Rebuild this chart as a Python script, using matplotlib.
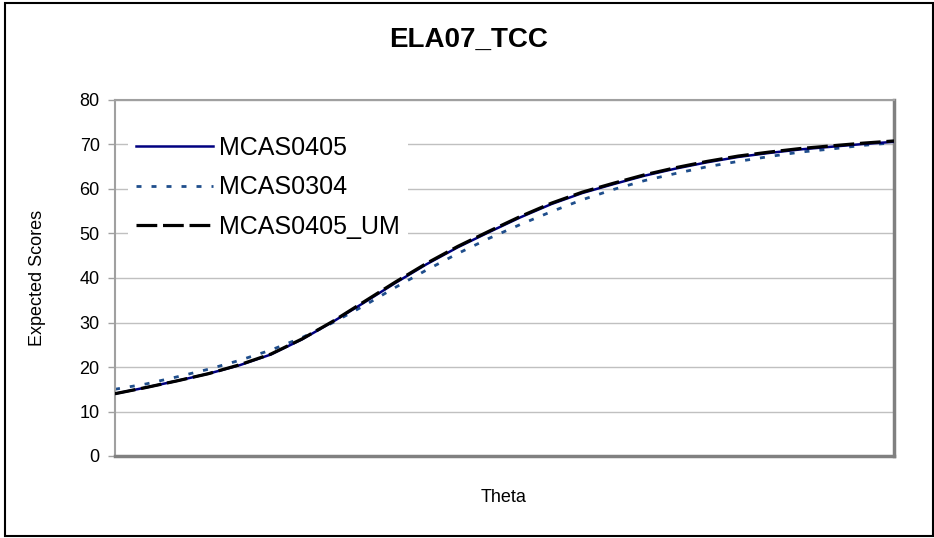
import numpy as np
import matplotlib
matplotlib.use("Agg")
import matplotlib.pyplot as plt
from matplotlib.patches import Rectangle

plt.rcParams["font.family"] = ["Liberation Sans", "DejaVu Sans"]

# theta grid (no tick labels shown on the chart)
theta = [-4.00, -3.68, -3.36, -3.04, -2.72, -2.40, -2.08, -1.76, -1.44, -1.12,
         -0.80, -0.48, -0.16, 0.16, 0.48, 0.80, 1.12, 1.44, 1.76, 2.08,
         2.40, 2.72, 3.04, 3.36, 3.68, 4.00]

# expected scores
mcas0405 = [14.0, 15.4, 16.9, 18.5, 20.4, 22.8, 26.2, 30.2, 34.5, 38.9,
            43.1, 46.9, 50.3, 53.6, 56.6, 59.1, 61.1, 63.0, 64.6, 66.0,
            67.2, 68.1, 68.9, 69.5, 70.1, 70.6]
mcas0304 = [15.0, 16.2, 17.8, 19.5, 21.5, 23.8, 26.6, 30.0, 33.8, 37.9,
            41.8, 45.5, 48.9, 52.0, 54.9, 57.6, 59.9, 61.9, 63.5, 65.0,
            66.2, 67.3, 68.3, 69.0, 69.8, 70.4]
mcas0405_um = [14.0, 15.4, 16.9, 18.5, 20.5, 22.9, 26.3, 30.3, 34.7, 39.1,
               43.3, 47.1, 50.5, 53.8, 56.8, 59.3, 61.3, 63.2, 64.8, 66.2,
               67.4, 68.3, 69.1, 69.7, 70.3, 70.8]

series_names = ["MCAS0405", "MCAS0304", "MCAS0405_UM"]
yticks = [0, 10, 20, 30, 40, 50, 60, 70, 80]

W, H = 934, 538
fig = plt.figure(figsize=(W / 100, H / 100), dpi=100)
fig.patch.set_facecolor("white")

# outer chart border
fig.patches.append(Rectangle((5 / W, 2 / H), 928 / W, 533 / H, transform=fig.transFigure,
                             fill=False, edgecolor="black", linewidth=1.5))

ax = fig.add_axes([115 / W, (H - 456) / H, 779 / W, 356 / H])

ax.plot(theta, mcas0405, color="#000080", linewidth=1.8, label=series_names[0], zorder=3)
ax.plot(theta, mcas0304, color="#1f4e8c", linewidth=2.0, linestyle=(0, (1.8, 3.6)),
        label=series_names[1], zorder=2)
ax.plot(theta, mcas0405_um, color="black", linewidth=2.3, linestyle=(0, (6.5, 1.8)),
        label=series_names[2], zorder=4)

ax.set_xlim(theta[0], theta[-1])
ax.set_ylim(0, 80)
ax.set_yticks(yticks)
ax.set_xticks([])
ax.yaxis.grid(True, color="#c0c0c0", linewidth=1.0)
ax.set_axisbelow(True)
ax.tick_params(axis="y", labelsize=13, length=5, width=1, color="#a0a0a0", pad=6)

for side in ["left", "top"]:
    ax.spines[side].set_color("#a0a0a0")
    ax.spines[side].set_linewidth(1.5)
for side in ["right", "bottom"]:
    ax.spines[side].set_color("#808080")
    ax.spines[side].set_linewidth(2.5)

leg = ax.legend(loc="upper left", bbox_to_anchor=(0.017, 0.92), frameon=True,
                facecolor="white", edgecolor="none", framealpha=1.0, fancybox=False,
                fontsize=18, handlelength=3.1, handletextpad=0.25,
                labelspacing=0.62, borderpad=0.3, borderaxespad=0)
leg.get_frame().set_linewidth(0)

fig.text(469 / W, 1 - 40 / H, "ELA07_TCC", ha="center", va="center",
         fontsize=20, fontweight="bold")
fig.text(38 / W, 1 - 278 / H, "Expected Scores", ha="center", va="center",
         rotation=90, fontsize=13)
fig.text(504 / W, 1 - 497 / H, "Theta", ha="center", va="center", fontsize=13)

fig.savefig("out.png", dpi=100)
